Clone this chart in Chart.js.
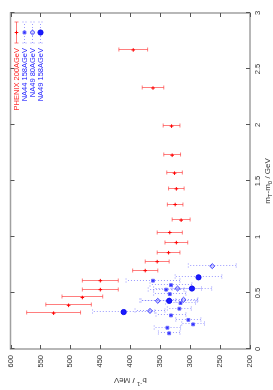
<!DOCTYPE html>
<html>
<head>
<meta charset="utf-8">
<script src="https://cdn.jsdelivr.net/npm/chart.js@4/dist/chart.umd.min.js"></script>
<style>
  html, body { margin: 0; padding: 0; background: #fff; overflow: hidden; }
  #wrap { position: relative; width: 273px; height: 390px; overflow: hidden; }
  /* the plot is drawn landscape, then turned a quarter counter-clockwise */
  #c { position: absolute; left: 0; top: 0; width: 390px; height: 273px;
       transform-origin: 0 0; transform: translate(0, 390px) rotate(-90deg); }
</style>
</head>
<body>
<div id="wrap"><canvas id="c" width="390" height="273"></canvas></div>
<script>
// m_T - m_0 (GeV), inverse slope b^-1 (MeV) and its error
const phenixM   = [0.32, 0.39, 0.46, 0.53, 0.61, 0.70, 0.78, 0.86, 0.95, 1.04, 1.15, 1.29, 1.43, 1.57, 1.73, 1.99, 2.33, 2.67];
const phenixB   = [528, 503, 480, 450, 450, 375, 355, 336, 323, 334, 315, 325, 323, 326, 330, 331, 362, 395];
const phenixErr = [45, 38, 34, 30, 30, 21, 20, 19, 19, 21, 15, 13, 13, 13, 14, 14, 18, 24];

const na44M   = [0.14, 0.19, 0.22, 0.26, 0.30, 0.36, 0.41, 0.49, 0.53, 0.57, 0.61];
const na44B   = [335, 338, 295, 303, 332, 318, 316, 334, 340, 332, 362];
const na44Err = [18, 22, 19, 21, 25, 20, 25, 27, 30, 35, 45];

const na49lowM   = [0.34, 0.43, 0.44, 0.54, 0.74];
const na49lowB   = [367, 354, 311, 321, 263];
const na49lowErr = [25, 30, 24, 40, 40];

const na49M   = [0.33, 0.43, 0.54, 0.64];
const na49B   = [411, 335, 297, 286];
const na49Err = [52, 47, 33, 39];

const labels = ["PHENIX 200AGeV", "NA44 158AGeV", "NA49 80AGeV", "NA49 158AGeV"];
const mTicks = [0, 0.5, 1, 1.5, 2, 2.5, 3];
const bTicks = [200, 250, 300, 350, 400, 450, 500, 550, 600];

const FONT = "'Liberation Sans', Arial, sans-serif";

function pts(m, b, e) {
  return m.map((v, i) => ({ x: v, y: b[i], err: e[i] }));
}

// how each series' bars look
const barStyle = [
  { color: "rgba(255,40,40,0.6)", dash: [], text: "#ff2020" },
  { color: "rgba(70,70,255,0.55)", dash: [1, 2], text: "#2424ff" },
  { color: "rgba(70,70,255,0.55)", dash: [1, 2], text: "#2424ff" },
  { color: "rgba(70,70,255,0.55)", dash: [1, 2], text: "#2424ff" },
];

function bar(ctx, x1, y1, x2, y2, vertical) {
  ctx.beginPath();
  ctx.moveTo(x1, y1);
  ctx.lineTo(x2, y2);
  if (vertical) {
    ctx.moveTo(x1 - 2, y1); ctx.lineTo(x1 + 2, y1);
    ctx.moveTo(x2 - 2, y2); ctx.lineTo(x2 + 2, y2);
  } else {
    ctx.moveTo(x1, y1 - 2); ctx.lineTo(x1, y1 + 2);
    ctx.moveTo(x2, y2 - 2); ctx.lineTo(x2, y2 + 2);
  }
  ctx.stroke();
}

const errorBars = {
  id: "errorBars",
  beforeDatasetsDraw(chart) {
    const { ctx, scales: { x, y } } = chart;
    ctx.save();
    ctx.lineWidth = 1;
    chart.data.datasets.forEach((ds, i) => {
      ctx.strokeStyle = barStyle[i].color;
      ctx.setLineDash(barStyle[i].dash);
      ds.data.forEach(p => {
        const px = Math.round(x.getPixelForValue(p.x)) + 0.5;
        bar(ctx, px, y.getPixelForValue(p.y - p.err), px, y.getPixelForValue(p.y + p.err), true);
      });
    });
    ctx.restore();
  },
};

// gnuplot-like frame with inward ticks on all four sides
const frame = {
  id: "frame",
  beforeDatasetsDraw(chart) {
    const { ctx, chartArea: a, scales: { x, y } } = chart;
    ctx.save();
    ctx.strokeStyle = "#a0a0a0";
    ctx.lineWidth = 1.5;
    ctx.strokeRect(a.left, a.top, a.right - a.left, a.bottom - a.top);
    ctx.strokeStyle = "#555";
    ctx.lineWidth = 1;
    ctx.beginPath();
    mTicks.forEach(v => {
      const px = Math.round(x.getPixelForValue(v)) + 0.5;
      ctx.moveTo(px, a.bottom); ctx.lineTo(px, a.bottom - 4);
      ctx.moveTo(px, a.top); ctx.lineTo(px, a.top + 4);
    });
    bTicks.forEach(v => {
      const py = Math.round(y.getPixelForValue(v)) + 0.5;
      ctx.moveTo(a.left, py); ctx.lineTo(a.left + 4, py);
      ctx.moveTo(a.right, py); ctx.lineTo(a.right - 4, py);
    });
    ctx.stroke();
    ctx.restore();
  },
  afterDraw(chart) {
    const { ctx, chartArea: a } = chart;
    ctx.save();
    ctx.fillStyle = "#333";
    ctx.textBaseline = "alphabetic";

    // axis title: m_T-m_0 / GeV
    const parts = [["m", 0], ["T", 1], ["-m", 0], ["0", 1], [" / GeV", 0]];
    drawRich(ctx, parts, (a.left + a.right) / 2, 270);

    // axis title: b^-1 / MeV, turned
    ctx.save();
    ctx.translate(12, (a.top + a.bottom) / 2);
    ctx.rotate(-Math.PI / 2);
    drawRich(ctx, [["b", 0], ["-1", -1], [" / MeV", 0]], 0, 0);
    ctx.restore();

    // key, top right
    chart.data.datasets.forEach((ds, i) => {
      const ry = Math.round(15.5 + 8 * i) + 0.5;
      ctx.font = "7.5px " + FONT;
      ctx.textAlign = "right";
      ctx.textBaseline = "middle";
      ctx.fillStyle = barStyle[i].text;
      ctx.fillText(ds.label, 342, ry);
      ctx.lineWidth = 1;
      ctx.strokeStyle = barStyle[i].color;
      ctx.setLineDash(barStyle[i].dash);
      bar(ctx, 347, ry, 368, ry, false);
      ctx.setLineDash([]);
      ctx.fillStyle = ds.backgroundColor;
      ctx.strokeStyle = ds.borderColor;
      ctx.lineWidth = ds.borderWidth;
      Chart.helpers.drawPoint(ctx, {
        pointStyle: ds.pointStyle, radius: ds.pointRadius, borderWidth: ds.borderWidth,
      }, 357.5, ry);
    });
    ctx.restore();
  },
};

function drawRich(ctx, parts, cx, baseY) {
  const big = "8px " + FONT, small = "6px " + FONT;
  let w = 0;
  parts.forEach(([t, s]) => { ctx.font = s ? small : big; w += ctx.measureText(t).width; });
  let x = cx - w / 2;
  ctx.textAlign = "left";
  parts.forEach(([t, s]) => {
    ctx.font = s ? small : big;
    ctx.fillText(t, x, baseY + (s === 1 ? 2 : s === -1 ? -4 : 0));
    x += ctx.measureText(t).width;
  });
}

new Chart(document.getElementById("c"), {
  type: "scatter",
  data: {
    datasets: [
      {
        label: labels[0], data: pts(phenixM, phenixB, phenixErr),
        pointStyle: "cross", pointRadius: 1.8, borderWidth: 1,
        borderColor: "#ff0000", backgroundColor: "#ff0000",
      },
      {
        label: labels[1], data: pts(na44M, na44B, na44Err),
        pointStyle: "rect", pointRadius: 2, borderWidth: 1,
        borderColor: "#6a6aff", backgroundColor: "#2a2aff",
      },
      {
        label: labels[2], data: pts(na49lowM, na49lowB, na49lowErr),
        pointStyle: "rectRot", pointRadius: 2.5, borderWidth: 1,
        borderColor: "#3c3cff", backgroundColor: "rgba(120,120,255,0.35)",
      },
      {
        label: labels[3], data: pts(na49M, na49B, na49Err),
        pointStyle: "circle", pointRadius: 2.6, borderWidth: 1,
        borderColor: "#1010ee", backgroundColor: "#1a1aff",
      },
    ],
  },
  options: {
    responsive: false,
    animation: false,
    devicePixelRatio: 1,
    layout: { padding: { top: 9, right: 13, bottom: 0, left: 0 } },
    plugins: { legend: { display: false }, tooltip: { enabled: false } },
    scales: {
      x: {
        type: "linear", position: "bottom", min: 0, max: 3,
        afterBuildTicks: s => { s.ticks = mTicks.map(v => ({ value: v })); },
        ticks: { color: "#333", padding: 3, maxRotation: 0, autoSkip: false,
                 font: { size: 7.5, family: FONT }, callback: v => String(v) },
        grid: { display: false, drawTicks: false },
        border: { display: false },
        afterFit: s => { s.height = 23; },
      },
      y: {
        type: "linear", position: "left", min: 200, max: 600,
        afterBuildTicks: s => { s.ticks = bTicks.map(v => ({ value: v })); },
        ticks: { color: "#333", padding: 6, autoSkip: false,
                 font: { size: 7.5, family: FONT }, callback: v => String(v) },
        grid: { display: false, drawTicks: false },
        border: { display: false },
        afterFit: s => { s.width = 41; },
      },
    },
  },
  plugins: [frame, errorBars],
});
</script>
</body>
</html>
